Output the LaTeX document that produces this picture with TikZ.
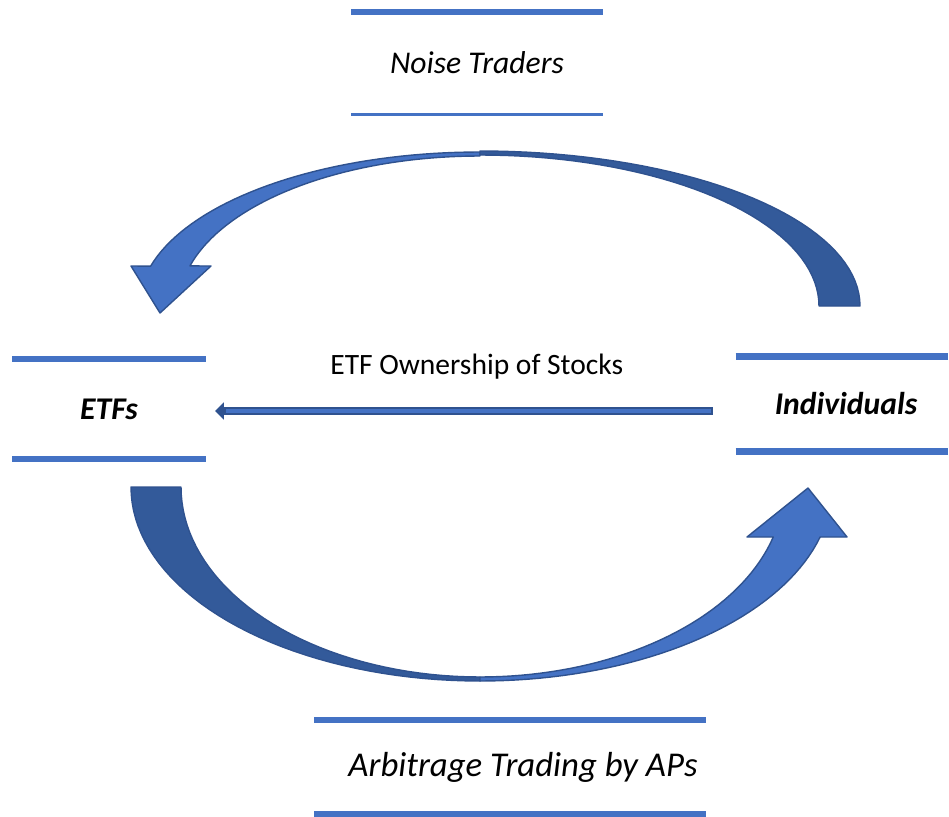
\documentclass[tikz,border=0pt]{standalone}
\usepackage{fontspec}
\setmainfont{Carlito}
\usepackage{xcolor}
\usepackage{tikz}
\usetikzlibrary{arrows.meta, positioning, calc}
\definecolor{officeblue}{HTML}{4472C4}
\definecolor{darkblue}{HTML}{335A9A}
\definecolor{edgeblue}{HTML}{2F528F}
\tikzstyle{actor} = [rectangle, inner sep=0pt, outer sep=0pt, text centered, font=\fontsize{18}{21}\selectfont]
\tikzstyle{bar} = [officeblue, line width=3.5pt]
\tikzstyle{thinbar} = [officeblue, line width=1.8pt]
\tikzstyle{front} = [fill=officeblue, draw=edgeblue, line width=0.8pt, line join=round]
\tikzstyle{back} = [fill=darkblue, draw=edgeblue, line width=0.8pt, line join=round]

\begin{document}
\begin{tikzpicture}[x=0.02cm, y=-0.02cm]
        \useasboundingbox (0,0) rectangle (949,817);
        \node (noise) [actor, minimum width=5.04cm, minimum height=2.05cm] at (477,63) {\itshape Noise Traders};
        \node (etfs) [actor, minimum width=3.88cm, minimum height=2.01cm] at (109,409) {\bfseries\itshape ETFs};
        \node (indiv) [actor, minimum width=4.26cm, minimum height=1.9cm] at (846,404) {\bfseries\itshape Individuals};
        \node (arb) [actor, minimum width=7.84cm, minimum height=1.87cm, font=\fontsize{19.8}{22}\selectfont] at (523,767) {\itshape Arbitrage Trading by APs};

        % bars above and below each group
        \draw [bar] (noise.north west) -- (noise.north east);
        \draw [thinbar] (noise.south west) -- (noise.south east);
        \draw [bar] (etfs.north west) -- (etfs.north east);
        \draw [bar] (etfs.south west) -- (etfs.south east);
        \draw [bar] ($(indiv.north west)+(-4,0)$) -- ($(indiv.north east)+(-4,0)$);
        \draw [bar] ($(indiv.south west)+(-4,0)$) -- ($(indiv.south east)+(-4,0)$);
        \draw [bar] ($(arb.north west)+(-13,0)$) -- ($(arb.north east)+(-13,0)$);
        \draw [bar] ($(arb.south west)+(-13,0)$) -- ($(arb.south east)+(-13,0)$);

        % ownership arrow
        \draw [edgeblue, line width=4.5pt, -{Triangle[length=5pt, width=9.5pt]}] ($(indiv.west)+(-27,7)$) -- node[black, midway, xshift=0.26cm, yshift=0.88cm, font=\fontsize{16.8}{19}\selectfont] {ETF Ownership of Stocks} ($(etfs.east)+(9,2)$);
        \draw [officeblue, line width=2.6pt, shorten >=6pt, shorten <=0.8pt] ($(indiv.west)+(-27,7)$) -- ($(etfs.east)+(9,2)$);

        % noise traders arrow (over the top)
        \draw [front] plot[domain=90:165, samples=40, variable=\t] ({480+341*cos(\t)}, {306-154*sin(\t)})
            -- (131,266) -- (160,313) -- (211,266)
            -- plot[domain=164.5:90, samples=40, variable=\t] ({480+301*cos(\t)}, {306-150*sin(\t)}) -- cycle;
        \draw [back] plot[domain=0:90, samples=40, variable=\t] ({480+380*cos(\t)}, {306-155*sin(\t)})
            -- plot[domain=90:0, samples=40, variable=\t] ({480+339*cos(\t)}, {306-151*sin(\t)}) -- cycle;

        % arbitrage arrow (under the bottom)
        \draw [back] plot[domain=180:90, samples=40, variable=\t] ({480+349*cos(\t)}, {487+194*sin(\t)})
            -- plot[domain=90:180, samples=40, variable=\t] ({480+299*cos(\t)}, {487+190*sin(\t)}) -- cycle;
        \draw [front] plot[domain=90:14.94, samples=40, variable=\t] ({480+352*cos(\t)}, {487+194*sin(\t)})
            -- (847,537) -- (808,488) -- (747,537)
            -- plot[domain=15.26:90, samples=40, variable=\t] ({480+304*cos(\t)}, {487+190*sin(\t)}) -- cycle;
    \end{tikzpicture}
\end{document}
